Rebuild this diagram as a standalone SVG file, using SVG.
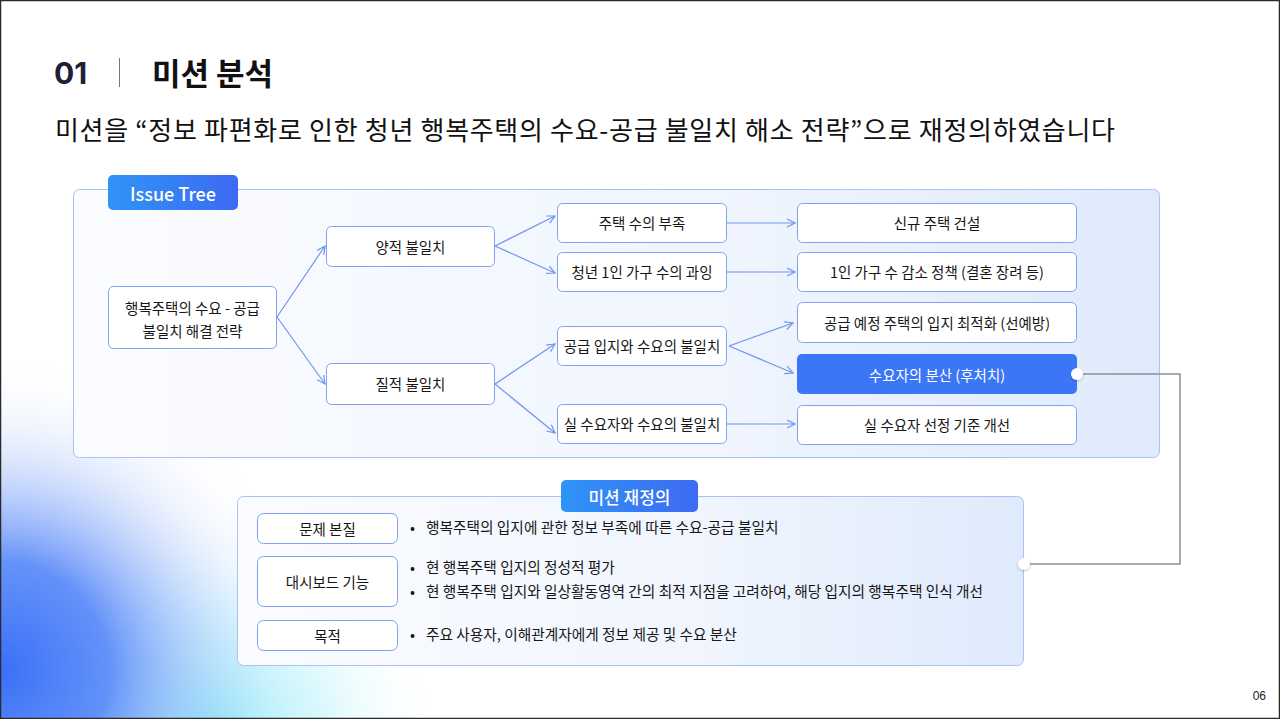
<svg xmlns="http://www.w3.org/2000/svg" width="1280" height="719" viewBox="0 0 1280 719">
<defs>
<style>
.kr{font-family:"Noto Sans CJK KR","Noto Sans",sans-serif;}
.node{fill:#ffffff;stroke:#7fa2f0;stroke-width:1;}
.nt{font-family:"Noto Sans CJK KR","Noto Sans",sans-serif;font-size:14.5px;fill:#161616;text-anchor:middle;dominant-baseline:central;}
.edge{fill:none;stroke:#6f95ee;stroke-width:1.2;}
.bt{font-family:"Noto Sans CJK KR","Noto Sans",sans-serif;font-size:14.7px;fill:#161616;}
.tagt{font-family:"Noto Sans CJK KR","Noto Sans",sans-serif;font-size:17px;font-weight:500;fill:#ffffff;text-anchor:middle;dominant-baseline:central;}
</style>
<linearGradient id="panel" x1="0" y1="0" x2="1" y2="0">
<stop offset="0" stop-color="#fbfcff"/>
<stop offset="0.6" stop-color="#f0f5fe"/>
<stop offset="1" stop-color="#dfeafc"/>
</linearGradient>
<linearGradient id="tag" x1="0" y1="0" x2="1" y2="0">
<stop offset="0" stop-color="#2f94f6"/>
<stop offset="1" stop-color="#3d6af3"/>
</linearGradient>
<radialGradient id="blob1" cx="0" cy="670" r="310" gradientUnits="userSpaceOnUse">
<stop offset="0" stop-color="#3a6ff8"/>
<stop offset="0.35" stop-color="#5486f8" stop-opacity="0.9"/>
<stop offset="0.7" stop-color="#a8c2fb" stop-opacity="0.35"/>
<stop offset="1" stop-color="#ffffff" stop-opacity="0"/>
</radialGradient>
<radialGradient id="blob2" cx="210" cy="735" r="230" gradientUnits="userSpaceOnUse">
<stop offset="0" stop-color="#7ee8f6" stop-opacity="0.95"/>
<stop offset="0.5" stop-color="#b6f2fa" stop-opacity="0.5"/>
<stop offset="1" stop-color="#ffffff" stop-opacity="0"/>
</radialGradient>
<marker id="arr" viewBox="0 0 10 10" refX="9" refY="5" markerWidth="10" markerHeight="10" markerUnits="userSpaceOnUse" orient="auto">
<path d="M1,1 L9,5 L1,9" fill="none" stroke="#6f95ee" stroke-width="1.2"/>
</marker>
<filter id="sh" x="-50%" y="-50%" width="200%" height="200%">
<feDropShadow dx="0" dy="1" stdDeviation="1.2" flood-color="#000" flood-opacity="0.25"/>
</filter>
</defs>

<rect x="0" y="0" width="1280" height="719" fill="#ffffff"/>
<rect x="0" y="360" width="600" height="359" fill="url(#blob2)"/>
<rect x="0" y="360" width="600" height="359" fill="url(#blob1)"/>

<!-- Title -->
<g id="title">
<text x="54" y="84" font-family="Inter,'Noto Sans',sans-serif" font-weight="700" font-size="30" fill="#1c2038">01</text>
<line x1="119.5" y1="58" x2="119.5" y2="87" stroke="#777" stroke-width="1"/>
<text x="152" y="85" class="kr" font-weight="700" font-size="31" fill="#111">미션 분석</text>
<text x="55" y="140" class="kr" font-size="26" fill="#111" textLength="1060" lengthAdjust="spacing">미션을 “정보 파편화로 인한 청년 행복주택의 수요-공급 불일치 해소 전략”으로 재정의하였습니다</text>
</g>

<!-- Issue tree panel -->
<g id="issue-panel">
<rect x="73.5" y="189.5" width="1086" height="268" rx="6" fill="url(#panel)" stroke="#a9c1f6" stroke-width="1"/>
<rect x="108" y="175" width="130" height="35" rx="5" fill="url(#tag)"/>
<text x="173" y="192.5" class="tagt" font-family="Inter,'Noto Sans',sans-serif" style="font-size:18px">Issue Tree</text>
</g>

<!-- Connectors -->
<g id="connectors">
<line class="edge" x1="277" y1="317" x2="325" y2="246" marker-end="url(#arr)"/>
<line class="edge" x1="277" y1="317" x2="325" y2="384" marker-end="url(#arr)"/>
<line class="edge" x1="495" y1="246" x2="555" y2="216" marker-end="url(#arr)"/>
<line class="edge" x1="495" y1="246" x2="555" y2="273" marker-end="url(#arr)"/>
<line class="edge" x1="495" y1="384" x2="555" y2="344" marker-end="url(#arr)"/>
<line class="edge" x1="495" y1="384" x2="555" y2="433" marker-end="url(#arr)"/>
<line class="edge" x1="727" y1="223" x2="795" y2="223" marker-end="url(#arr)"/>
<line class="edge" x1="727" y1="272" x2="795" y2="272" marker-end="url(#arr)"/>
<line class="edge" x1="729" y1="346" x2="793" y2="323" marker-end="url(#arr)"/>
<line class="edge" x1="729" y1="346" x2="793" y2="373" marker-end="url(#arr)"/>
<line class="edge" x1="727" y1="424" x2="795" y2="424" marker-end="url(#arr)"/>
<polyline points="1077,374 1180,374 1180,564 1024,564" fill="none" stroke="#8e8e93" stroke-width="1.5"/>
</g>

<g id="n-root"><rect class="node" x="108.5" y="286.5" width="168" height="62" rx="5"/>
<text class="nt" x="192.5" y="307">행복주택의 수요 - 공급</text>
<text class="nt" x="192.5" y="330">불일치 해결 전략</text></g>
<g id="n-quant"><rect class="node" x="326.5" y="226.5" width="168" height="40" rx="5"/><text class="nt" x="410.5" y="246">양적 불일치</text></g>
<g id="n-qual"><rect class="node" x="326.5" y="363.5" width="168" height="41" rx="5"/><text class="nt" x="410.5" y="383.5">질적 불일치</text></g>

<g id="n-a1"><rect class="node" x="557.5" y="203.5" width="169" height="39" rx="5"/><text class="nt" x="642" y="222.5">주택 수의 부족</text></g>
<g id="n-a2"><rect class="node" x="557.5" y="252.5" width="169" height="39" rx="5"/><text class="nt" x="642" y="271.5">청년 1인  가구 수의 과잉</text></g>
<g id="n-b1"><rect class="node" x="557.5" y="326.5" width="169" height="39" rx="5"/><text class="nt" x="642" y="345.5">공급 입지와 수요의 불일치</text></g>
<g id="n-b2"><rect class="node" x="557.5" y="404.5" width="169" height="39" rx="5"/><text class="nt" x="642" y="423.5">실 수요자와 수요의 불일치</text></g>

<g id="n-c1"><rect class="node" x="797.5" y="203.5" width="279" height="39" rx="5"/><text class="nt" x="937" y="222.5">신규 주택 건설</text></g>
<g id="n-c2"><rect class="node" x="797.5" y="252.5" width="279" height="39" rx="5"/><text class="nt" x="937" y="271.5">1인 가구 수 감소 정책 (결혼 장려 등)</text></g>
<g id="n-c3"><rect class="node" x="797.5" y="302.5" width="279" height="40" rx="5"/><text class="nt" x="937" y="322">공급 예정 주택의 입지 최적화 (선예방)</text></g>
<g id="n-c4"><rect x="797" y="354" width="280" height="40" rx="5" fill="#3b76f6"/><text class="nt" x="937" y="374" style="fill:#ffffff">수요자의 분산 (후처치)</text>
<circle cx="1077" cy="374" r="6" fill="#ffffff" filter="url(#sh)"/></g>
<g id="n-c5"><rect class="node" x="797.5" y="405.5" width="279" height="39" rx="5"/><text class="nt" x="937" y="424.5">실 수요자 선정 기준 개선</text></g>

<!-- Mission panel -->
<g id="mission-panel">
<rect x="237.5" y="496.5" width="786" height="169" rx="6" fill="url(#panel)" stroke="#a9c1f6" stroke-width="1"/>
<rect x="561" y="480" width="137" height="32" rx="5" fill="url(#tag)"/>
<text x="629.5" y="496" class="tagt">미션 재정의</text>
<circle cx="1024" cy="564" r="6" fill="#ffffff" filter="url(#sh)"/>
</g>
<g id="m-essence"><rect class="node" x="257.5" y="513.5" width="140" height="30" rx="6"/><text class="nt" x="327.5" y="528.5">문제 본질</text>
<text class="bt" x="410" y="533">•</text><text class="bt" x="426" y="533">행복주택의 입지에 관한 정보 부족에 따른 수요-공급 불일치</text></g>
<g id="m-dashboard"><rect class="node" x="257.5" y="556.5" width="140" height="50" rx="6"/><text class="nt" x="327.5" y="581.5">대시보드 기능</text>
<text class="bt" x="410" y="573">•</text><text class="bt" x="426" y="573">현 행복주택 입지의 정성적 평가</text>
<text class="bt" x="410" y="597">•</text><text class="bt" x="426" y="597">현 행복주택 입지와 일상활동영역 간의 최적 지점을 고려하여, 해당 입지의 행복주택 인식 개선</text></g>
<g id="m-goal"><rect class="node" x="257.5" y="620.5" width="140" height="30" rx="6"/><text class="nt" x="327.5" y="635.5">목적</text>
<text class="bt" x="410" y="640">•</text><text class="bt" x="426" y="640">주요 사용자, 이해관계자에게 정보 제공 및 수요 분산</text></g>

<text x="1266" y="700" font-family="'Liberation Sans',Arial,sans-serif" font-size="12" fill="#222" text-anchor="end">06</text>
<rect x="0.5" y="0.5" width="1279" height="718" fill="none" stroke="#2a2a2a" stroke-width="1.5"/>
</svg>
